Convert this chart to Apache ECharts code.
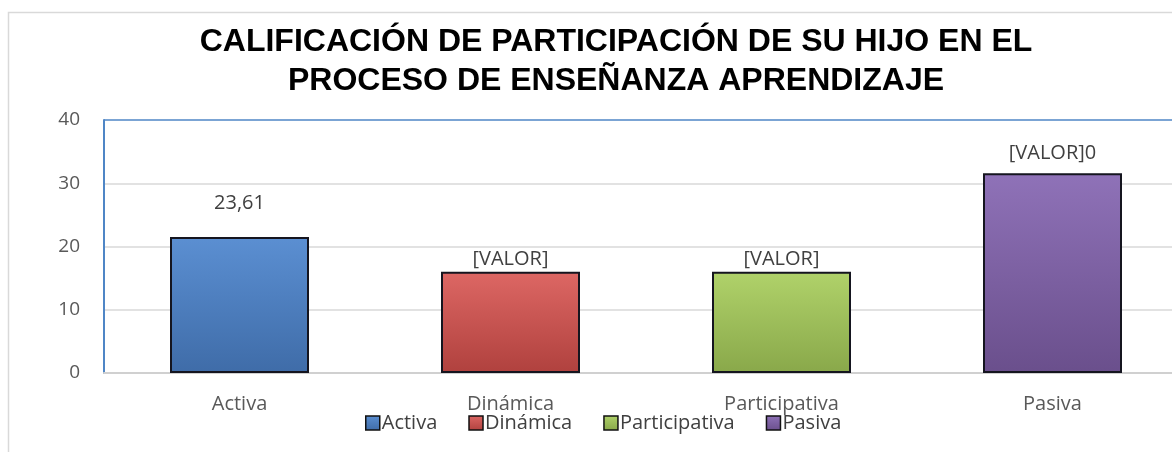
<!DOCTYPE html>
<html>
<head>
<meta charset="utf-8">
<script src="https://cdn.jsdelivr.net/npm/echarts@6/dist/echarts.min.js"></script>
<style>
  html, body { margin: 0; padding: 0; background: #fff; }
  #chart { width: 1172px; height: 452px; }
</style>
</head>
<body>
<div id="chart"></div>
<script>
  // datos del gráfico
  var categories = ['Activa', 'Dinámica', 'Participativa', 'Pasiva'];
  var values = [21.5, 16, 16, 31.6];
  var dataLabels = ['23,61', '[VALOR]', '[VALOR]', '[VALOR]0'];
  var yTicks = [0, 10, 20, 30, 40];

  var colors = [
    ['#5b8fd2', '#3f6ca8'],
    ['#dd6764', '#b0413e'],
    ['#b0d26a', '#89a84a'],
    ['#8f72b8', '#6a4f8c']
  ];
  // separación de cada etiqueta sobre su barra
  var labelDist = [24, 3, 3, 10];
  var frameBlue = '#4f86c6';

  var chart = echarts.init(document.getElementById('chart'));

  var series = categories.map(function (name, i) {
    return {
      name: name,
      type: 'bar',
      barWidth: 139,
      barGap: '-100%',
      data: values.map(function (v, j) { return j === i ? v : null; }),
      itemStyle: {
        color: new echarts.graphic.LinearGradient(0, 0, 0, 1, [
          { offset: 0, color: colors[i][0] },
          { offset: 1, color: colors[i][1] }
        ]),
        borderColor: '#15151f',
        borderWidth: 2
      },
      label: {
        show: true,
        position: 'top',
        distance: labelDist[i],
        formatter: dataLabels[i],
        fontFamily: 'Open Sans',
        fontSize: 20,
        color: '#404040'
      }
    };
  });

  var option = {
    animation: false,
    backgroundColor: '#fff',
    color: colors.map(function (c) { return c[1]; }),
    title: {
      text: 'CALIFICACIÓN DE PARTICIPACIÓN DE SU HIJO EN EL\nPROCESO DE ENSEÑANZA APRENDIZAJE',
      left: 611,
      textAlign: 'center',
      top: 18,
      textStyle: {
        fontFamily: 'Liberation Sans',
        fontWeight: 'bold',
        fontSize: 32,
        lineHeight: 39,
        color: '#000'
      }
    },
    legend: {
      data: categories,
      left: 360,
      top: 408,
      itemWidth: 14,
      itemHeight: 14,
      itemGap: 31,
      icon: 'rect',
      itemStyle: { borderColor: '#111', borderWidth: 1.5 },
      textStyle: {
        fontFamily: 'Open Sans',
        fontSize: 20,
        color: '#404040',
        padding: [0, 0, 0, -3]
      }
    },
    graphic: [{
      type: 'rect',
      shape: { x: 8.5, y: 12.5, width: 1300, height: 600 },
      style: { fill: 'none', stroke: '#d9d9d9', lineWidth: 1.5 },
      z: -1
    }],
    grid: {
      left: 104,
      top: 120,
      width: 1084,
      bottom: 79,
      containLabel: false,
      outerBoundsMode: 'none'
    },
    xAxis: {
      type: 'category',
      data: categories,
      axisTick: { show: false },
      axisLine: { lineStyle: { color: '#d0d0d0', width: 2 } },
      axisLabel: {
        margin: 21,
        fontFamily: 'Open Sans',
        fontSize: 20,
        color: '#595959'
      }
    },
    yAxis: {
      type: 'value',
      min: yTicks[0],
      max: yTicks[yTicks.length - 1],
      interval: 10,
      axisLine: { show: true, lineStyle: { color: frameBlue, width: 2 } },
      axisTick: { show: false },
      splitLine: {
        lineStyle: {
          color: ['#d9d9d9', '#d9d9d9', '#d9d9d9', '#d9d9d9', frameBlue],
          width: 1.5
        }
      },
      axisLabel: {
        margin: 24,
        fontFamily: 'Open Sans',
        fontSize: 19,
        color: '#595959'
      }
    },
    series: series
  };

  chart.setOption(option);
</script>
</body>
</html>
